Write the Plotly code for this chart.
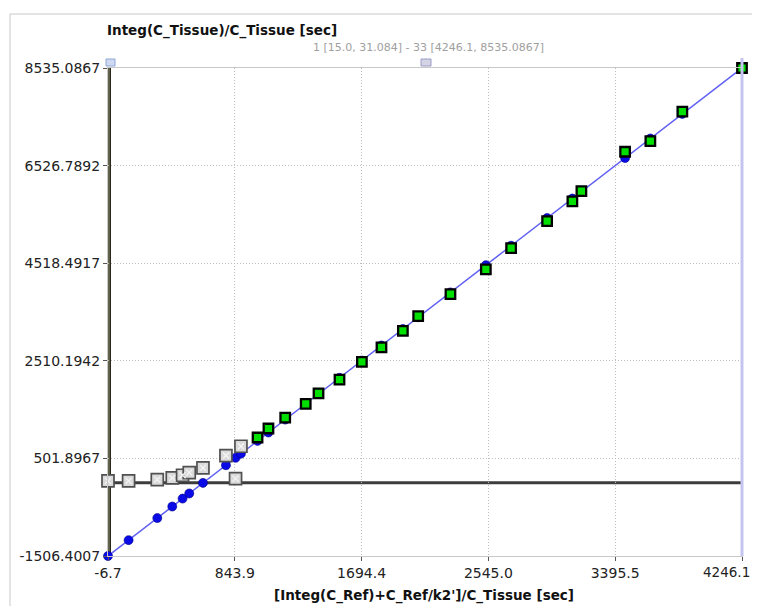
import plotly.graph_objects as go

# ---- data ----
x_ticks = [-6.7, 843.9, 1694.4, 2545.0, 3395.5, 4246.1]
x_tick_text = ["-6.7", "843.9", "1694.4", "2545.0", "3395.5", "4246.1"]
y_ticks = [-1506.4007, 501.8967, 2510.1942, 4518.4917, 6526.7892, 8535.0867]
y_tick_text = ["-1506.4007", "501.8967", "2510.1942", "4518.4917", "6526.7892", "8535.0867"]

# excluded (gray) points
excl_x = [-6.7, 131.4, 323.9, 424.4, 493.5, 538.4, 630.3, 784.5, 848.9, 885.1]
excl_y = [37.9, 37.9, 66.7, 99.6, 155.2, 210.8, 305.5, 560.8, 87.3, 752.3]

# fitted (green) points
fit_x = [996.4, 1069.5, 1182.1, 1319.6, 1405.4, 1546.2, 1696.4, 1827.8, 1971.3, 2073.9,
         2290.4, 2527.8, 2697.4, 2938.8, 3108.4, 3168.8, 3461.8, 3631.4, 3846.0, 4246.1]
fit_y = [931.5, 1116.8, 1339.1, 1623.3, 1839.5, 2121.6, 2488.1, 2784.6, 3126.4, 3429.0,
         3882.0, 4390.6, 4829.1, 5385.1, 5790.7, 6002.8, 6812.0, 7032.3, 7635.6, 8535.0867]

# model (blue) points
model_x = excl_x + fit_x
model_y = [-1506.4, -1180.3, -725.8, -488.5, -325.3, -219.3, -2.3, 361.8, 513.8, 599.3,
           862.1, 1034.7, 1300.6, 1625.3, 1827.8, 2160.3, 2515.0, 2825.2, 3164.0, 3406.3,
           3917.5, 4478.1, 4878.5, 5448.5, 5849.0, 5991.6, 6683.4, 7083.9, 7590.6, 8535.0867]

x_range = [-6.7, 4246.1]
y_range = [-1506.4007, 8535.0867]

title_y = "Integ(C_Tissue)/C_Tissue [sec]"
title_x = "[Integ(C_Ref)+C_Ref/k2']/C_Tissue [sec]"
subtitle = "1 [15.0, 31.084] - 33 [4246.1, 8535.0867]"

FONT = "DejaVu Sans, Verdana, sans-serif"

# page body has an 8px margin: plot area targeted at x 108..742, y 68..556 of the page
OFF = 8
FIG_W, FIG_H = 760 - 2 * OFF, 606 - OFF
PL, PR, PT, PB = 108, 742, 68, 556
PW, PH = PR - PL, PB - PT
RIGHT_EDGE = OFF + FIG_W


def px(xp):
    return (xp - PL) / PW


def py(yp):
    return (PB - yp) / PH


def xdata_to_paper(v):
    return (v - x_range[0]) / (x_range[1] - x_range[0])


fig = go.Figure()

# model line + dots
fig.add_trace(go.Scatter(
    x=model_x, y=model_y, mode="lines+markers",
    line=dict(color="#6060f4", width=1.5),
    marker=dict(symbol="circle", size=9, color="#0a0ae6", line=dict(color="#00008a", width=0.6)),
    cliponaxis=False, showlegend=False, hoverinfo="skip"))

# excluded points
fig.add_trace(go.Scatter(
    x=excl_x, y=excl_y, mode="markers",
    marker=dict(symbol="square", size=12, color="#dadada", line=dict(color="#505050", width=1.7)),
    cliponaxis=False, showlegend=False, hoverinfo="skip"))
fig.add_trace(go.Scatter(
    x=excl_x, y=excl_y, mode="markers",
    marker=dict(symbol="x-thin-open", size=6, color="#f6f6f6", line=dict(color="#f6f6f6", width=1.2)),
    cliponaxis=False, showlegend=False, hoverinfo="skip"))

# fitted points
fig.add_trace(go.Scatter(
    x=fit_x, y=fit_y, mode="markers",
    marker=dict(symbol="square", size=9.5, color="#00e000", line=dict(color="#000000", width=2.3)),
    cliponaxis=False, showlegend=False, hoverinfo="skip"))

x0p = xdata_to_paper(0)
shapes = [
    # outer panel border
    dict(type="rect", xref="paper", yref="paper", x0=px(10), x1=px(775), y0=py(620), y1=py(14),
         line=dict(color="#c8c8c8", width=1), fillcolor="rgba(0,0,0,0)", layer="below"),
    # zero lines
    dict(type="line", xref="x", yref="y", x0=x_range[0], x1=x_range[1], y0=0, y1=0,
         line=dict(color="#3c3c3c", width=3), layer="below"),
    dict(type="line", xref="paper", yref="paper", x0=x0p, x1=x0p, y0=0, y1=1,
         line=dict(color="#26261c", width=4), layer="below"),
    dict(type="line", xref="paper", yref="paper", x0=x0p, x1=x0p, y0=0, y1=1,
         line=dict(color="#77775a", width=1.5), layer="below"),
    # right range marker
    dict(type="line", xref="paper", yref="paper", x0=1, x1=1, y0=0, y1=py(58),
         line=dict(color="#c4c4f0", width=3), layer="above"),
    # handles
    dict(type="rect", xref="paper", yref="paper", xsizemode="pixel", ysizemode="pixel",
         xanchor=0, yanchor=1, x0=-2, x1=7, y0=2, y1=9,
         line=dict(color="#8fa6d8", width=1), fillcolor="#cfdaf2"),
    dict(type="rect", xref="paper", yref="paper", xsizemode="pixel", ysizemode="pixel",
         xanchor=0.5, yanchor=1, x0=-4, x1=6, y0=2, y1=9,
         line=dict(color="#9a9ac8", width=1), fillcolor="#d4d4e4"),
]

annotations = [
    dict(text="<b>" + title_y + "</b>", xref="paper", yref="paper",
         x=px(222), y=py(30), xanchor="center", yanchor="middle",
         showarrow=False, font=dict(family=FONT, size=13.5, color="#111111")),
    dict(text=subtitle, xref="paper", yref="paper",
         x=px(428), y=py(47), xanchor="center", yanchor="middle",
         showarrow=False, font=dict(family=FONT, size=11, color="#a0a0a0")),
    dict(text="<b>" + title_x + "</b>", xref="paper", yref="paper",
         x=px(424), y=py(595), xanchor="center", yanchor="middle",
         showarrow=False, font=dict(family=FONT, size=13.5, color="#111111")),
    # last x tick label (would otherwise be dropped at the figure edge)
    dict(text=x_tick_text[-1], xref="paper", yref="paper",
         x=px(RIGHT_EDGE), y=0, xanchor="right", yanchor="top", yshift=-6,
         showarrow=False, font=dict(family=FONT, size=13.5, color="#222222")),
]

shown_x_text = x_tick_text[:-1] + [""]

fig.update_layout(
    width=FIG_W, height=FIG_H,
    margin=dict(l=PL - OFF, r=RIGHT_EDGE - PR, t=PT - OFF, b=OFF + FIG_H - PB),
    paper_bgcolor="white", plot_bgcolor="white",
    shapes=shapes, annotations=annotations,
    font=dict(family=FONT, size=14, color="#222222"),
    xaxis=dict(range=x_range, tickvals=x_ticks, ticktext=shown_x_text,
               showgrid=True, gridcolor="#bdbdbd", griddash="1px,2px", gridwidth=1,
               zeroline=False, showline=True, linecolor="#c8c8c8", mirror=True,
               ticks="outside", ticklen=4, tickcolor="#555555",
               tickfont=dict(family=FONT, size=14, color="#222222")),
    yaxis=dict(range=y_range, tickvals=y_ticks, ticktext=y_tick_text,
               showgrid=True, gridcolor="#bdbdbd", griddash="1px,2px", gridwidth=1,
               zeroline=False, showline=True, linecolor="#c8c8c8", mirror=True,
               ticks="outside", ticklen=4, tickcolor="#555555",
               tickfont=dict(family=FONT, size=14, color="#222222")),
)

fig.write_html("out.html")
